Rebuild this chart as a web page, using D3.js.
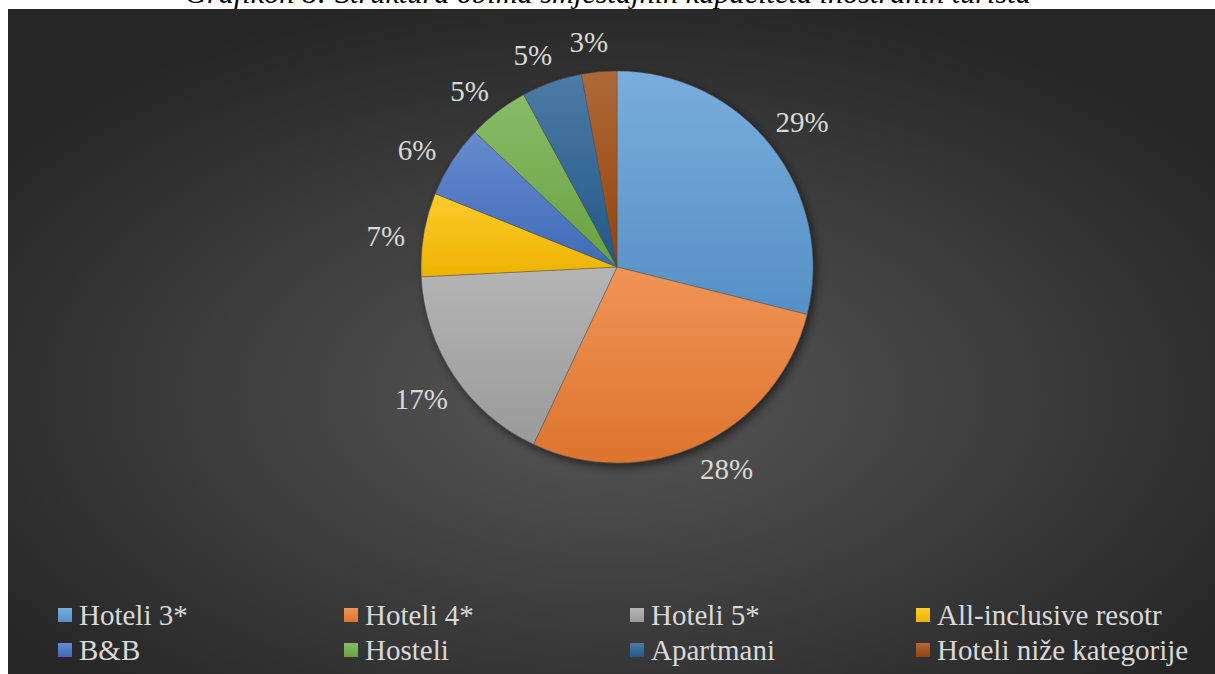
<!DOCTYPE html>
<html>
<head>
<meta charset="utf-8">
<script src="https://cdn.jsdelivr.net/npm/d3@7"></script>
<style>
  body { margin: 0; background: #ffffff; }
  svg { display: block; }
  text { font-family: "Liberation Serif", "Times New Roman", Tinos, serif; }
</style>
</head>
<body>
<script>
// data
var categories = ["Hoteli 3*", "Hoteli 4*", "Hoteli 5*", "All-inclusive resotr",
                  "B&B", "Hosteli", "Apartmani", "Hoteli niže kategorije"];
var shares = [28.9, 28.1, 17.2, 6.9, 6.0, 5.0, 5.0, 2.9];
var labels = ["29%", "28%", "17%", "7%", "6%", "5%", "5%", "3%"];
var baseColors = ["#5b9bd5", "#ed7d31", "#a5a5a5", "#ffc000",
                  "#4472c4", "#70ad47", "#255e91", "#9e480e"];
var title = "Grafikon 8: Struktura obima smještajnih kapaciteta inostranih turista";

var W = 1215, H = 674;
var svg = d3.select("body").append("svg")
    .attr("width", W)
    .attr("height", H);

var defs = svg.append("defs");

//background gradient of the chart area
var bg = defs.append("radialGradient")
    .attr("id", "bgGrad")
    .attr("cx", "50%").attr("cy", "58%").attr("r", "62%");
bg.append("stop").attr("offset", "0%").attr("stop-color", "#575757");
bg.append("stop").attr("offset", "100%").attr("stop-color", "#262626");

//slice gradients, light on top, base at bottom
baseColors.forEach(function(c, i){
    var g = defs.append("linearGradient")
        .attr("id", "sl" + i)
        .attr("x1", 0).attr("y1", 0).attr("x2", 0).attr("y2", 1);
    g.append("stop").attr("offset", "0%").attr("stop-color", d3.interpolateRgb(c, "#ffffff")(0.18));
    g.append("stop").attr("offset", "100%").attr("stop-color", d3.color(c).darker(0.2));
});

var shadow = defs.append("filter").attr("id", "shadow")
    .attr("x", "-20%").attr("y", "-20%").attr("width", "140%").attr("height", "140%");
shadow.append("feDropShadow")
    .attr("dx", 3).attr("dy", 4).attr("stdDeviation", 5)
    .attr("flood-color", "#000").attr("flood-opacity", 0.55);

//chart area
svg.append("rect")
    .attr("x", 8).attr("y", 9)
    .attr("width", W - 8).attr("height", H - 9)
    .attr("fill", "url(#bgGrad)");

//title, mostly cut off at the top like in the source
svg.append("text")
    .attr("x", 608).attr("y", 3)
    .attr("text-anchor", "middle")
    .style("font-style", "italic")
    .style("font-size", "30.3px")
    .attr("fill", "#000")
    .text(title);

//pie
var cx = 617, cy = 267, r = 196;
var pie = d3.pie().sort(null).value(function(d){ return d; });
var arcs = pie(shares);
var arc = d3.arc().innerRadius(0).outerRadius(r);

var g = svg.append("g").attr("transform", "translate(" + cx + "," + cy + ")");

g.append("g").attr("filter", "url(#shadow)")
  .selectAll("path")
  .data(arcs)
  .enter()
  .append("path")
    .attr("d", arc)
    .attr("fill", function(d, i){ return "url(#sl" + i + ")"; })
    .attr("stroke", "rgba(80,80,80,0.6)")
    .attr("stroke-width", 0.7);

//labels "outside end": box pushed out from the rim along the slice middle
var lblText = g.selectAll(".lbl")
  .data(arcs)
  .enter()
  .append("text")
    .attr("class", "lbl")
    .attr("text-anchor", "middle")
    .attr("dominant-baseline", "central")
    .style("font-size", "29px")
    .attr("fill", "#d9d9d9")
    .text(function(d, i){ return labels[i]; });

lblText.attr("transform", function(d){
    var a = (d.startAngle + d.endAngle) / 2 - 0.03;
    var bw = this.getComputedTextLength() / 2, bh = 13;
    var rr = r + 18;
    var x = Math.sin(a) * rr + Math.sin(a) * bw;
    var y = -Math.cos(a) * rr - Math.cos(a) * bh;
    return "translate(" + x + "," + y + ")";
});

//legend, 4 columns x 2 rows
var colX = d3.scaleLinear().domain([0, 3]).range([58, 916]);
var rowY = d3.scaleLinear().domain([0, 1]).range([615, 650]);

var leg = svg.selectAll(".leg")
  .data(categories)
  .enter()
  .append("g")
    .attr("class", "leg")
    .attr("transform", function(d, i){
        return "translate(" + colX(i % 4) + "," + rowY(Math.floor(i / 4)) + ")";
    });

leg.append("rect")
    .attr("x", 0).attr("y", -7)
    .attr("width", 14).attr("height", 14)
    .attr("fill", function(d, i){ return "url(#sl" + i + ")"; });

leg.append("text")
    .attr("x", 21).attr("y", 0)
    .attr("dominant-baseline", "central")
    .style("font-size", "29px")
    .attr("fill", "#d9d9d9")
    .text(function(d){ return d; });
</script>
</body>
</html>
